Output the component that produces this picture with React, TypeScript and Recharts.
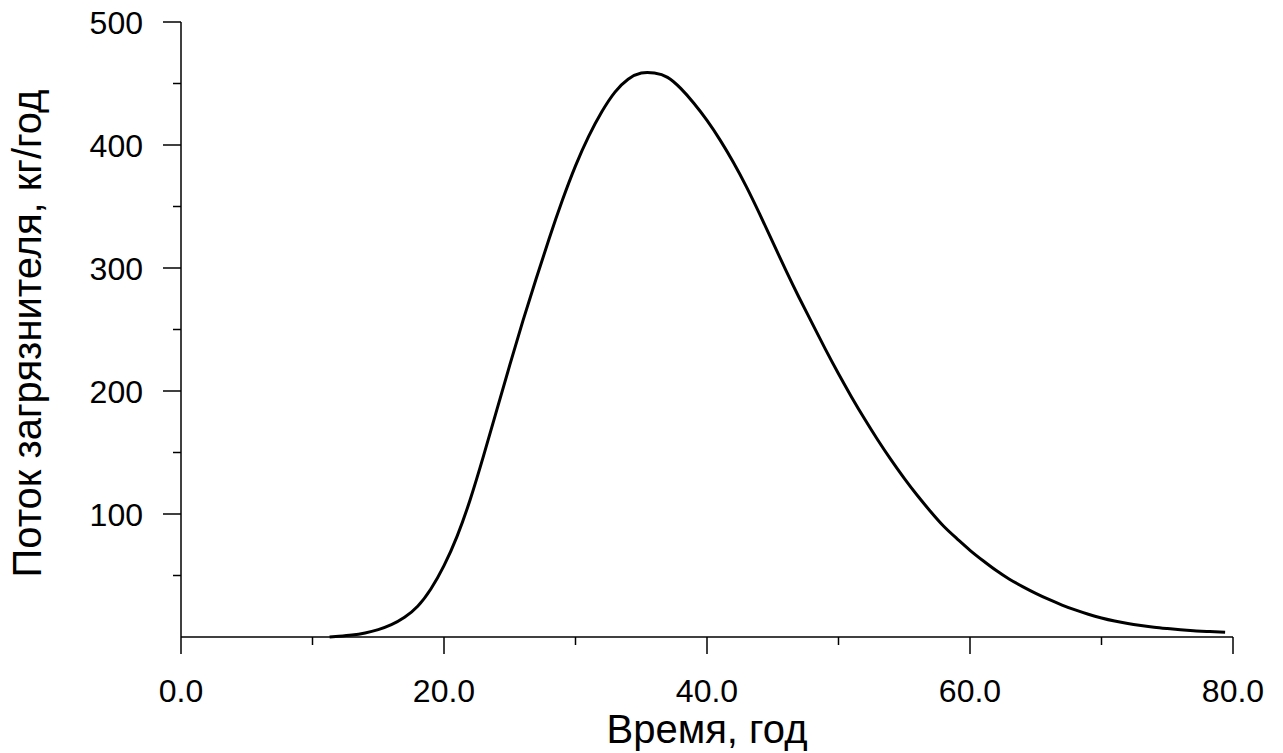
import { LineChart, Line, XAxis, YAxis, Label } from 'recharts'

// время, год
const years = [
  11.3, 12, 13, 14, 15, 16, 17, 18, 19, 20, 21, 22, 23, 24, 25, 26, 27, 28, 29, 30,
  31, 32, 33, 34, 35, 36, 37, 38, 39, 40, 41, 42, 43, 44, 45, 46, 47, 48, 49, 50,
  51, 52, 53, 54, 55, 56, 57, 58, 59, 60, 61, 62, 63, 64, 65, 66, 67, 68, 69, 70,
  71, 72, 73, 74, 75, 76, 77, 78, 79, 79.4,
]

// поток загрязнителя, кг/год
const flux = [
  0, 0.6, 1.6, 3.3, 6, 10, 16, 25, 39, 58, 82, 112, 147, 184, 221, 257, 291, 324, 355, 383,
  407, 427, 443, 453.5, 458.5, 458.5, 455, 446, 434, 420, 404, 386, 366, 344, 321, 298, 276, 255, 234, 214,
  195, 177, 160, 144, 129, 115, 102, 90, 80, 70.5, 62, 54, 47, 41, 35.5, 30.5, 26, 22, 18.5, 15.5,
  13, 11, 9.4, 8, 6.9, 5.9, 5.1, 4.5, 4, 3.8,
]

const xTicks = [0, 10, 20, 30, 40, 50, 60, 70, 80]
const yTicks = [50, 100, 150, 200, 250, 300, 350, 400, 450, 500]

const xTitle = 'Время, год'
const yTitle = 'Поток загрязнителя, кг/год'

const FONT = '"Liberation Sans", Arial, sans-serif'

const data = years.map((t, i) => ({ t, v: flux[i] }))

const XTick = (props: any) => {
  const { x, y, payload } = props
  const major = payload.value % 20 === 0
  return (
    <g>
      <line x1={x} y1={y} x2={x} y2={y + (major ? 17 : 8)} stroke="#000" strokeWidth={1.5} />
      {major && (
        <text x={x} y={y + 65} textAnchor="middle" fontSize={32} fontFamily={FONT} fill="#000">
          {payload.value.toFixed(1)}
        </text>
      )}
    </g>
  )
}

const YTick = (props: any) => {
  const { x, y, payload } = props
  const major = payload.value % 100 === 0
  return (
    <g>
      <line x1={x - (major ? 18 : 8)} y1={y} x2={x} y2={y} stroke="#000" strokeWidth={1.5} />
      {major && (
        <text x={x - 38} y={y + 11.5} textAnchor="end" fontSize={32} fontFamily={FONT} fill="#000">
          {payload.value}
        </text>
      )}
    </g>
  )
}

export default function App() {
  return (
    <div style={{ position: 'absolute', left: 0, top: 0, background: '#fff' }}>
      <LineChart width={1283} height={753} data={data} margin={{ top: 22, right: 50, left: 0, bottom: 0 }}>
        <XAxis
          dataKey="t"
          type="number"
          domain={[0, 80]}
          ticks={xTicks}
          interval={0}
          height={116}
          tickSize={0}
          tickMargin={0}
          tickLine={false}
          tick={XTick}
          axisLine={{ stroke: '#000', strokeWidth: 1.5 }}
        >
          <Label
            content={(p: any) => {
              const vb = p.viewBox
              return (
                <text x={vb.x + vb.width / 2} y={vb.y + 106} textAnchor="middle" fontSize={40} fontFamily={FONT} fill="#000">
                  {xTitle}
                </text>
              )
            }}
          />
        </XAxis>
        <YAxis
          type="number"
          domain={[0, 500]}
          ticks={yTicks}
          interval={0}
          width={181}
          tickSize={0}
          tickMargin={0}
          tickLine={false}
          tick={YTick}
          axisLine={{ stroke: '#000', strokeWidth: 1.5 }}
        >
          <Label
            content={(p: any) => {
              const vb = p.viewBox
              const cx = 27
              const cy = vb.y + vb.height / 2 + 4
              return (
                <text
                  x={cx}
                  y={cy}
                  transform={`rotate(-90 ${cx} ${cy})`}
                  textAnchor="middle"
                  dominantBaseline="central"
                  fontSize={40}
                  fontFamily={FONT}
                  fill="#000"
                >
                  {yTitle}
                </text>
              )
            }}
          />
        </YAxis>
        <Line
          type="natural"
          dataKey="v"
          stroke="#000"
          strokeWidth={3}
          dot={false}
          isAnimationActive={false}
        />
      </LineChart>
    </div>
  )
}
